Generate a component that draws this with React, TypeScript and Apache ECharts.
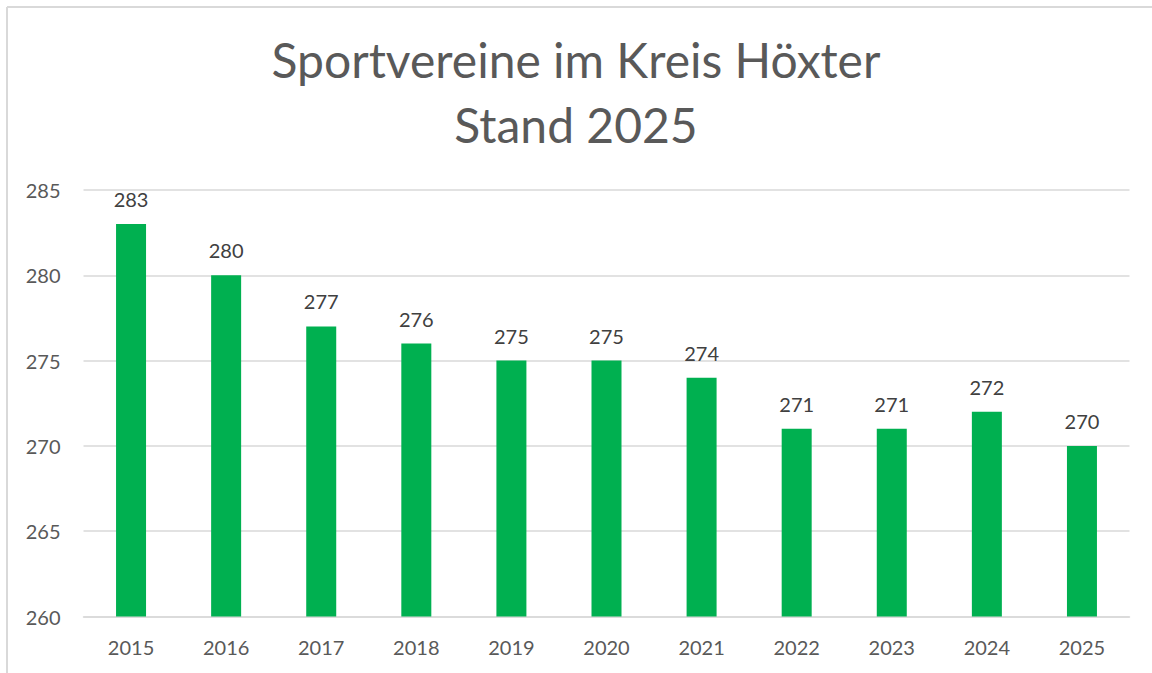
import React, { useEffect, useRef } from "react";
import * as echarts from "echarts";

const titleLines = ["Sportvereine im Kreis Höxter", "Stand 2025"];
const years = ["2015", "2016", "2017", "2018", "2019", "2020", "2021", "2022", "2023", "2024", "2025"];
const clubs = [283, 280, 277, 276, 275, 275, 274, 271, 271, 272, 270];
const yMin = 260;
const yMax = 285;
const yStep = 5;

const FONT = "Lato, 'Open Sans', sans-serif";

export default function App() {
  const ref = useRef<HTMLDivElement>(null);
  useEffect(() => {
    if (!ref.current) return;
    const chart = echarts.init(ref.current, null, { renderer: "svg" });
    chart.setOption({
      animation: false,
      backgroundColor: "#ffffff",
      title: {
        text: titleLines.join("\n"),
        left: "center",
        top: 22,
        textStyle: {
          fontFamily: FONT,
          fontSize: 48,
          fontWeight: "normal",
          color: "#595959",
          lineHeight: 65,
        },
      },
      graphic: [
        { type: "line", shape: { x1: 7, y1: 7, x2: 1152, y2: 7 }, style: { stroke: "#d9d9d9", lineWidth: 2 } },
        { type: "line", shape: { x1: 7, y1: 7, x2: 7, y2: 673 }, style: { stroke: "#d9d9d9", lineWidth: 2 } },
      ],
      grid: { left: 83.5, right: 22.5, top: 190, bottom: 56.5, containLabel: false },
      xAxis: {
        type: "category",
        data: years,
        axisLine: { show: true, lineStyle: { color: "#d9d9d9", width: 1.5 } },
        axisTick: { show: false },
        axisLabel: { color: "#595959", fontFamily: FONT, fontSize: 20, margin: 20 },
      },
      yAxis: {
        type: "value",
        min: yMin,
        max: yMax,
        interval: yStep,
        axisLine: { show: false },
        axisTick: { show: false },
        splitLine: { lineStyle: { color: "#d9d9d9", width: 1.5 } },
        axisLabel: { color: "#595959", fontFamily: FONT, fontSize: 20, margin: 23 },
      },
      series: [
        {
          type: "bar",
          data: clubs,
          barWidth: 30,
          itemStyle: { color: "#00b050" },
          label: {
            show: true,
            position: "top",
            distance: 15,
            color: "#404040",
            fontFamily: FONT,
            fontSize: 20,
          },
        },
      ],
    });
    return () => chart.dispose();
  }, []);
  return (
    <div
      ref={ref}
      style={{ position: "fixed", left: 0, top: 0, width: 1152, height: 673 }}
    />
  );
}
